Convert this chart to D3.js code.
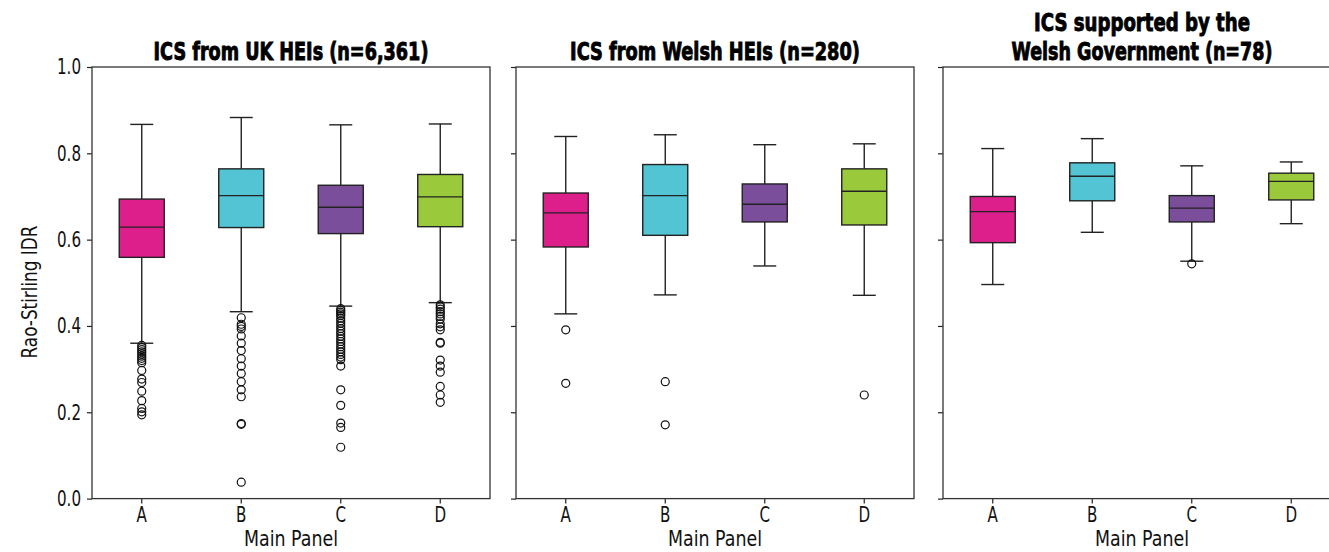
<!DOCTYPE html>
<html>
<head>
<meta charset="utf-8">
<script src="https://cdn.jsdelivr.net/npm/d3@7"></script>
<style>
  body { margin: 0; background: #fff; }
  svg { display: block; }
  .tick text { font-family: "Liberation Sans Narrow", "DejaVu Sans Condensed", "Arial Narrow", sans-serif; fill: #111; }
  .lbl { font-family: "Liberation Sans Narrow", "DejaVu Sans Condensed", "Arial Narrow", sans-serif; fill: #111; }
  .ttl { font-family: "DejaVu Sans Condensed", "Liberation Sans Narrow", "Arial Narrow", sans-serif; font-weight: bold; fill: #000; stroke: #000; stroke-width: 0.9px; }
</style>
</head>
<body>
<svg id="chart" width="1329" height="552"></svg>
<script>
// ---- data ----
const categories = ["A", "B", "C", "D"];
const boxColors = ["#dc1f8b", "#52c4d3", "#7b4e9c", "#9aca3c"];
const yTicks = [0.0, 0.2, 0.4, 0.6, 0.8, 1.0];

// panel titles (one entry per line)
const panelTitles = [
  ["ICS from UK HEIs (n=6,361)"],
  ["ICS from Welsh HEIs (n=280)"],
  ["ICS supported by the", "Welsh Government (n=78)"]
];

// [lower whisker, Q1, median, Q3, upper whisker] for A, B, C, D
const ukBoxes = [
  [0.360, 0.559, 0.629, 0.694, 0.867],
  [0.433, 0.628, 0.702, 0.764, 0.883],
  [0.446, 0.614, 0.675, 0.726, 0.866],
  [0.454, 0.630, 0.699, 0.751, 0.868]
];
const welshBoxes = [
  [0.428, 0.583, 0.662, 0.708, 0.839],
  [0.472, 0.610, 0.702, 0.774, 0.843],
  [0.539, 0.641, 0.682, 0.729, 0.820],
  [0.471, 0.634, 0.712, 0.764, 0.822]
];
const govBoxes = [
  [0.496, 0.593, 0.665, 0.700, 0.811],
  [0.617, 0.690, 0.747, 0.778, 0.834],
  [0.550, 0.641, 0.673, 0.702, 0.771],
  [0.637, 0.692, 0.735, 0.754, 0.780]
];

// outliers for A, B, C, D
const ukOutliers = [
  [0.355, 0.350, 0.345, 0.340, 0.335, 0.330, 0.325, 0.320, 0.315, 0.297, 0.277, 0.269, 0.249, 0.227, 0.209, 0.201, 0.194],
  [0.419, 0.404, 0.399, 0.393, 0.377, 0.360, 0.343, 0.324, 0.307, 0.290, 0.271, 0.252, 0.236, 0.174, 0.172, 0.038],
  [0.440, 0.436, 0.432, 0.428, 0.424, 0.418, 0.412, 0.406, 0.400, 0.394, 0.388, 0.382, 0.376, 0.370,
   0.364, 0.358, 0.352, 0.346, 0.340, 0.334, 0.328, 0.322, 0.307, 0.252, 0.216, 0.175, 0.165, 0.119],
  [0.449, 0.444, 0.439, 0.433, 0.428, 0.422, 0.416, 0.405, 0.398, 0.391, 0.362, 0.360, 0.321, 0.307, 0.293, 0.260, 0.240, 0.223]
];
const welshOutliers = [
  [0.391, 0.267],
  [0.271, 0.171],
  [],
  [0.240]
];
const govOutliers = [
  [],
  [],
  [0.544],
  []
];

const panelBoxes = [ukBoxes, welshBoxes, govBoxes];
const panelOutliers = [ukOutliers, welshOutliers, govOutliers];

// ---- layout ----
const panelLeft = [92, 516, 943];
const panelW = 398;
const plotTop = 67, plotBottom = 498.6;
const boxW = 45, capW = 23;
const ink = "#222";
const narrow = 0.8;   // horizontal squeeze to mimic the condensed face

const svg = d3.select("#chart");

const y = d3.scaleLinear().domain([0, 1]).range([plotBottom, plotTop]);

// draw a text centred on (cx, baseline by) and squeeze it to a given width
function fitText(parent, str, cx, by, size, width, cls) {
  const t = parent.append("text")
      .attr("class", cls)
      .attr("text-anchor", "middle")
      .attr("font-size", size + "px")
      .text(str);
  const w = t.node().getComputedTextLength();
  t.attr("transform", "translate(" + cx + "," + by + ") scale(" + (width / w) + ",1)");
  return t;
}

panelLeft.forEach(function(left, p) {

  const g = svg.append("g").attr("transform", "translate(" + left + ",0)");

  const x = d3.scaleBand().domain(categories).range([0, panelW]);

  // y axis (labels only on the first panel)
  const yAxis = g.append("g")
      .call(d3.axisLeft(y).tickValues(yTicks).tickFormat(d3.format(".1f")).tickSize(5).tickPadding(6));
  yAxis.select(".domain").remove();
  yAxis.selectAll("line").attr("stroke", ink).attr("stroke-width", 1.2);
  yAxis.selectAll("text").attr("font-size", "21px")
      .attr("transform", "translate(-11,0) scale(" + narrow + ",1) translate(11,0)");
  if (p > 0) yAxis.selectAll("text").remove();

  // x axis
  const xAxis = g.append("g")
      .attr("transform", "translate(0," + plotBottom + ")")
      .call(d3.axisBottom(x).tickSize(5).tickPadding(4));
  xAxis.select(".domain").remove();
  xAxis.selectAll("line").attr("stroke", ink).attr("stroke-width", 1.2);
  xAxis.selectAll("text").attr("font-size", "21px")
      .attr("transform", "scale(" + narrow + ",1)")
      .attr("x", 0);

  fitText(g, "Main Panel", panelW / 2, 546, 22, 94, "lbl");

  // boxes
  const boxes = panelBoxes[p];
  categories.forEach(function(cat, i) {
    const s = boxes[i];
    const cx = x(cat) + x.bandwidth() / 2;
    const bg = g.append("g");

    // whiskers
    bg.append("line").attr("x1", cx).attr("x2", cx).attr("y1", y(s[3])).attr("y2", y(s[4]))
        .attr("stroke", ink).attr("stroke-width", 1.4);
    bg.append("line").attr("x1", cx).attr("x2", cx).attr("y1", y(s[1])).attr("y2", y(s[0]))
        .attr("stroke", ink).attr("stroke-width", 1.4);
    bg.append("line").attr("x1", cx - capW / 2).attr("x2", cx + capW / 2).attr("y1", y(s[4])).attr("y2", y(s[4]))
        .attr("stroke", ink).attr("stroke-width", 1.4);
    bg.append("line").attr("x1", cx - capW / 2).attr("x2", cx + capW / 2).attr("y1", y(s[0])).attr("y2", y(s[0]))
        .attr("stroke", ink).attr("stroke-width", 1.4);

    // box
    bg.append("rect")
        .attr("x", cx - boxW / 2)
        .attr("y", y(s[3]))
        .attr("width", boxW)
        .attr("height", y(s[1]) - y(s[3]))
        .attr("fill", boxColors[i])
        .attr("stroke", ink)
        .attr("stroke-width", 1.4);

    // median
    bg.append("line").attr("x1", cx - boxW / 2).attr("x2", cx + boxW / 2).attr("y1", y(s[2])).attr("y2", y(s[2]))
        .attr("stroke", ink).attr("stroke-width", 1.4);

    // outliers
    bg.selectAll("circle")
        .data(panelOutliers[p][i])
        .enter()
        .append("circle")
        .attr("cx", cx)
        .attr("cy", function(d) { return y(d); })
        .attr("r", 4)
        .attr("fill", "none")
        .attr("stroke", "#111")
        .attr("stroke-width", 1.2);
  });

  // frame
  g.append("rect")
      .attr("x", 0).attr("y", plotTop)
      .attr("width", panelW).attr("height", plotBottom - plotTop)
      .attr("fill", "none")
      .attr("stroke", "#333")
      .attr("stroke-width", 1.3);

  // title
  const lines = panelTitles[p];
  const titleWidths = [[275], [290], [216, 261]][p];
  lines.forEach(function(line, k) {
    fitText(g, line, panelW / 2, 60 - (lines.length - 1 - k) * 29.5, 25, titleWidths[k], "ttl");
  });
});

// y label
svg.append("text")
    .attr("class", "lbl")
    .attr("font-size", "22px")
    .attr("text-anchor", "middle")
    .text("Rao-Stirling IDR")
    .each(function() {
      const w = this.getComputedTextLength();
      d3.select(this).attr("transform",
        "translate(37,292) rotate(-90) scale(" + (133 / w) + ",1)");
    });
</script>
</body>
</html>
